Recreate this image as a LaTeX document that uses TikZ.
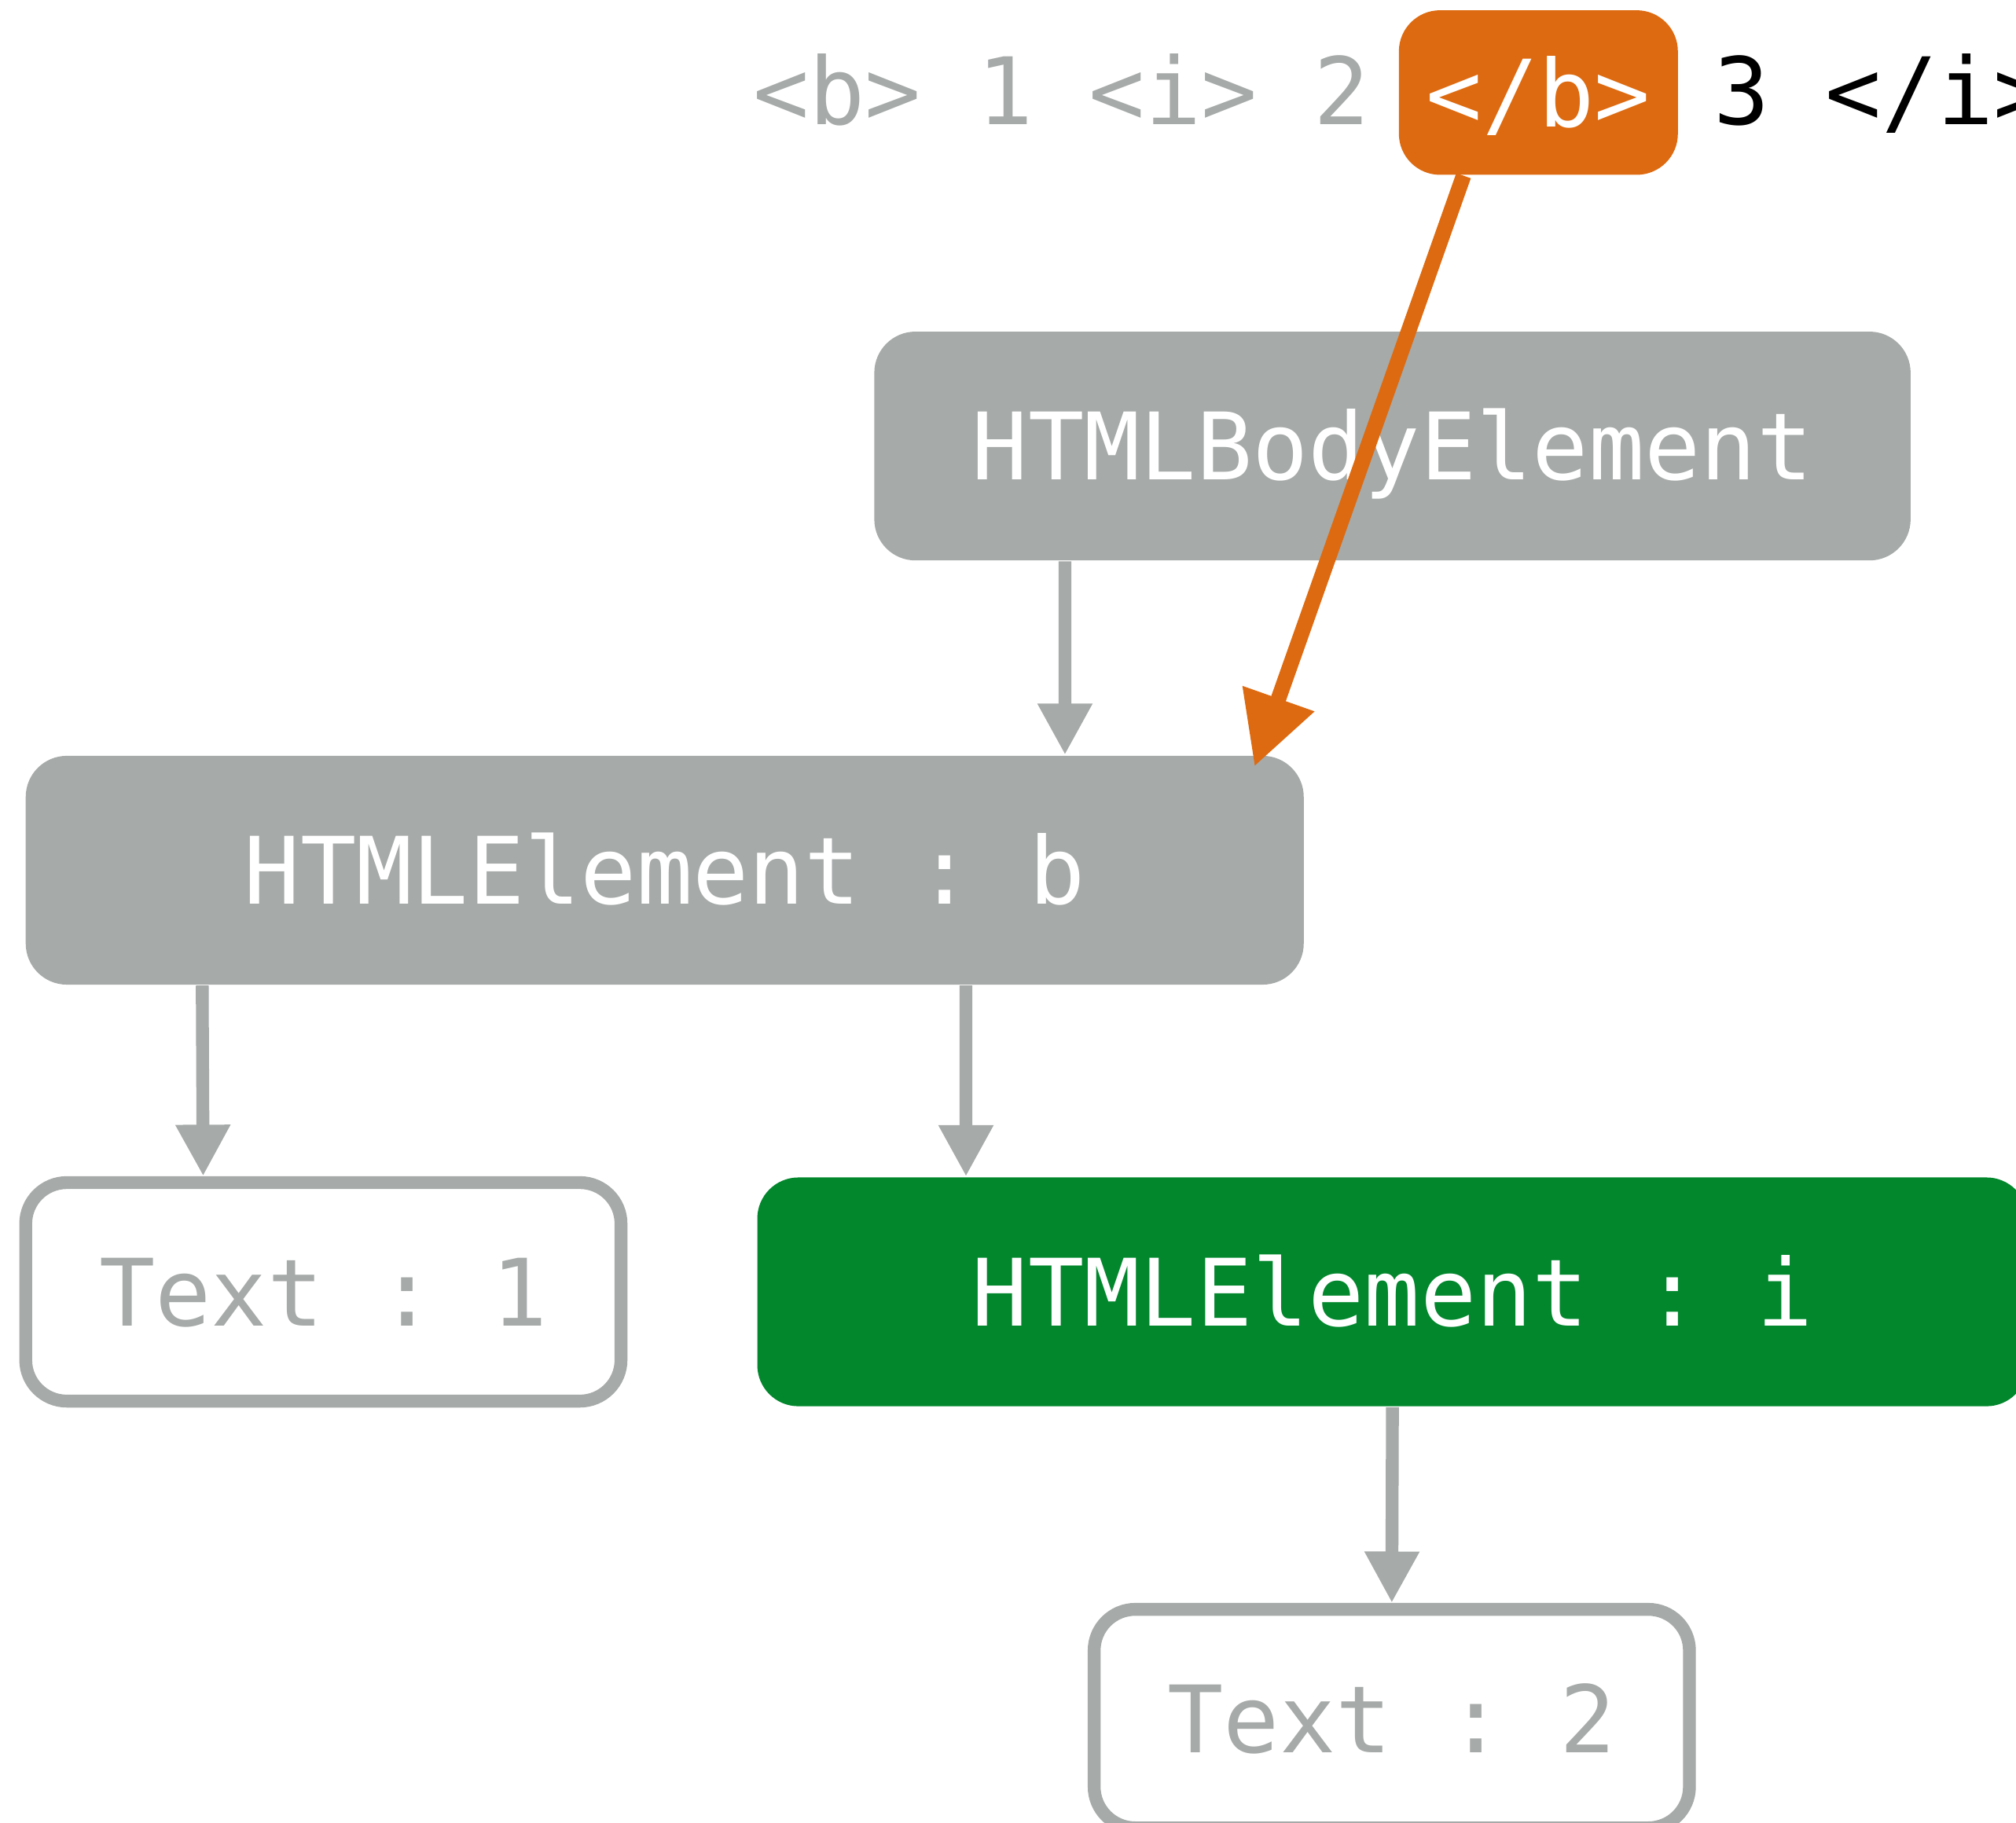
\documentclass[tikz,border=0pt]{standalone}
\usepackage{fontspec}
\setmonofont{DejaVu Sans Mono}
\usetikzlibrary{arrows.meta}
\definecolor{boxgray}{HTML}{A6AAA9}
\definecolor{tagorange}{HTML}{DD6A10}
\definecolor{elgreen}{HTML}{02872D}
\tikzset{
    elem/.style={fill=boxgray, text=white, rounded corners=0.32cm, minimum height=1.78cm,
        text height=0.53cm, text depth=0cm, inner sep=0pt},
    textnode/.style={draw=boxgray, line width=0.1cm, fill=white, text=boxgray, rounded corners=0.32cm,
        minimum width=4.63cm, minimum height=1.70cm, text height=0.53cm, text depth=0cm, inner sep=0pt},
    child/.style={draw=boxgray, line width=0.1cm, -{Triangle[width=0.4cm,length=0.4cm]}},
    closes/.style={draw=tagorange, line width=0.12cm, -{Triangle[width=0.56cm,length=0.56cm]}},
}
\begin{document}
\begin{tikzpicture}[font=\ttfamily\fontsize{20.6pt}{24pt}\selectfont]
    \useasboundingbox (0, 0) rectangle (15.68, -14.18);
    % source line
    \node[anchor=base west, inner sep=0pt, text=boxgray] (seen) at (5.85, -0.97) {<b> 1 <i> 2};
    \node[fill=tagorange, text=white, rounded corners=0.32cm, minimum width=2.17cm, minimum height=1.28cm,
        text height=0.53cm, text depth=0cm, inner sep=0pt] (tag) at (11.965, -0.72) {</b>};
    \node[anchor=base west, inner sep=0pt] (rest) at (13.32, -0.97) {3 </i>};
    % tree
    \node[elem, minimum width=8.06cm] (body) at (10.83, -3.47) {HTMLBodyElement};
    \node[elem, minimum width=9.94cm] (elb) at (5.17, -6.77) {HTMLElement : b};
    \node[textnode] (txt1) at (2.515, -10.05) {Text : 1};
    \node[elem, fill=elgreen, minimum width=9.88cm] (eli) at (10.83, -10.05) {HTMLElement : i};
    \node[textnode] (txt2) at (10.825, -13.37) {Text : 2};
    \coordinate (closeb) at ([shift={(-0.39, -0.09)}]elb.north east);
    % edges
    \draw[child] ([xshift=1.49cm]body.south west) -- ([xshift=8.09cm]elb.north west);
    \draw[child] ([xshift=1.38cm]elb.south west) -- ([xshift=1.43cm]txt1.north west);
    \draw[child] ([xshift=7.32cm]elb.south west) -- ([xshift=1.63cm]eli.north west);
    \draw[child] (eli.south) -- (txt2.north);
    \draw[closes] ([xshift=0.51cm]tag.south west) -- (closeb);
\end{tikzpicture}
\end{document}
